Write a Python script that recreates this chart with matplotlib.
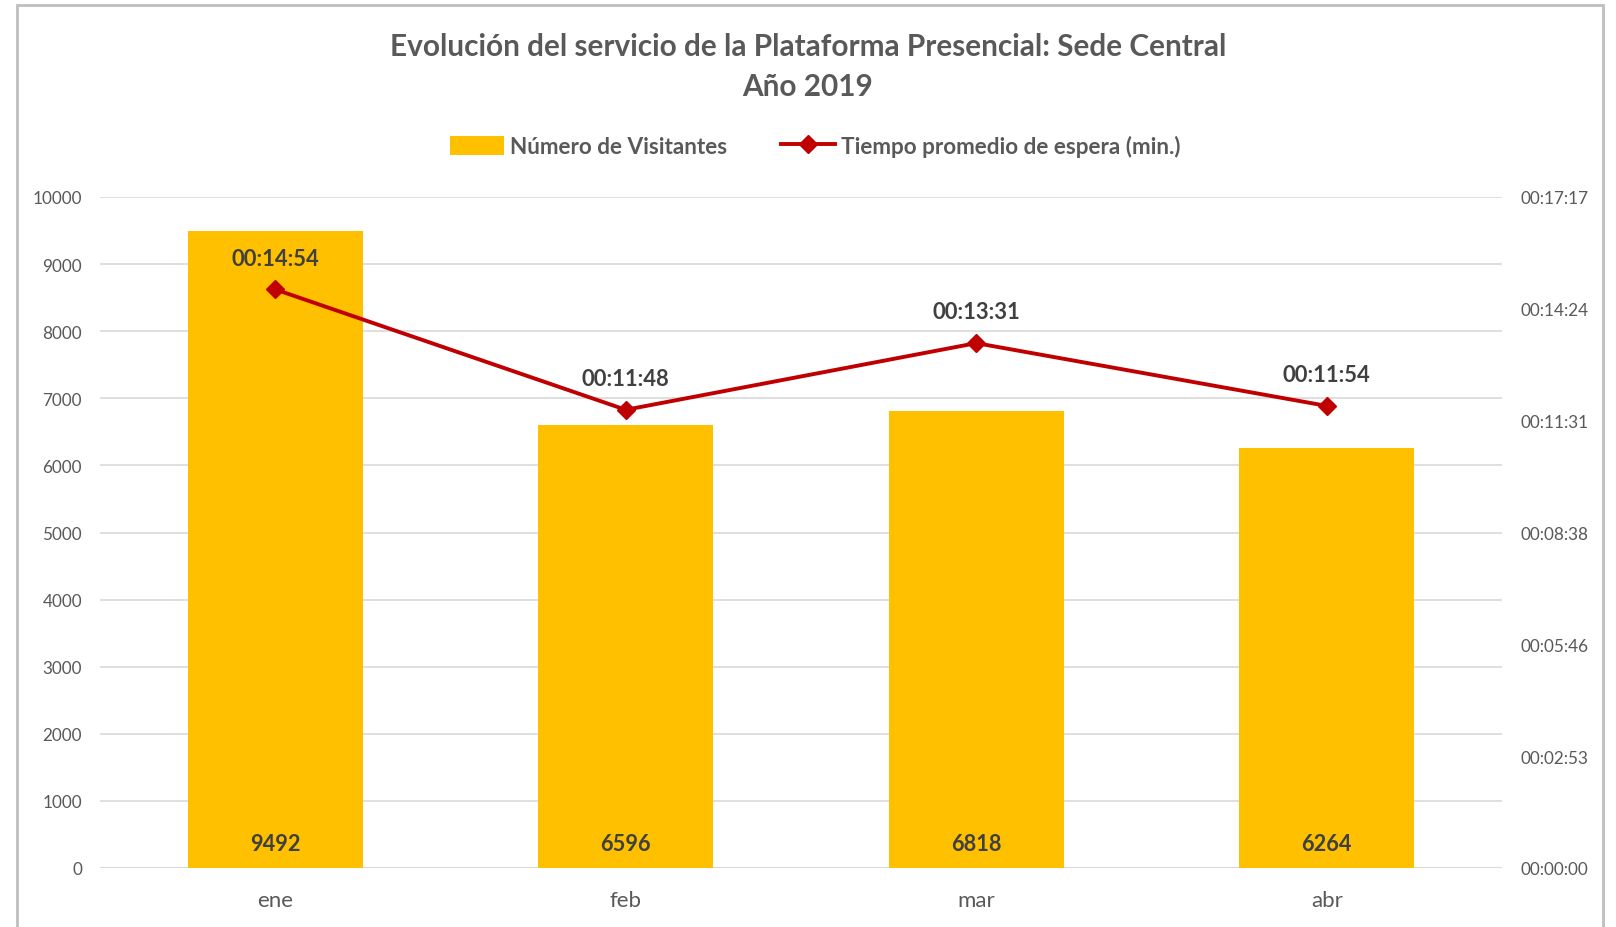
import matplotlib
matplotlib.use("Agg")
import matplotlib.pyplot as plt
from matplotlib.lines import Line2D
from matplotlib.patches import Patch, Rectangle

# data
meses = ["ene", "feb", "mar", "abr"]
visitantes = [9492, 6596, 6818, 6264]
tiempo_espera = ["00:14:54", "00:11:48", "00:13:31", "00:11:54"]

titulo = "Evolución del servicio de la Plataforma Presencial: Sede Central\nAño 2019"
serie_barras = "Número de Visitantes"
serie_linea = "Tiempo promedio de espera (min.)"


def a_segundos(txt):
    h, m, s = [int(p) for p in txt.split(":")]
    return h * 3600 + m * 60 + s


def a_hms(seg):
    seg = int(round(seg))
    return f"{seg // 3600:02d}:{(seg % 3600) // 60:02d}:{seg % 60:02d}"


segundos = [a_segundos(t) for t in tiempo_espera]

plt.rcParams["font.family"] = ["Lato", "DejaVu Sans"]
GRIS = "#595959"
OSCURO = "#404040"
AMARILLO = "#FFC000"
ROJO = "#C00000"

W, H = 1616, 928
fig = plt.figure(figsize=(W / 100, H / 100), dpi=100)
ax = fig.add_axes([100 / W, 1 - 869 / H, 1402 / W, (869 - 198) / H])
ax2 = ax.twinx()

x = list(range(len(meses)))
ax.bar(x, visitantes, width=0.5, color=AMARILLO, zorder=2)
ax.set_xlim(-0.5, len(meses) - 0.5)
ax.set_ylim(0, 10000)
ax.set_yticks(range(0, 10001, 1000))
ax.yaxis.grid(True, color="#D9D9D9", linewidth=1.2, zorder=0)
ax.set_axisbelow(True)
ax.set_xticks(x)
ax.set_xticklabels(meses, fontsize=16, color=GRIS)
ax.tick_params(axis="x", length=0, pad=16)
ax.tick_params(axis="y", length=0, pad=13, labelsize=12.3, labelcolor=GRIS)
for s in ax.spines.values():
    s.set_visible(False)
ax.axhline(0, color="#D9D9D9", linewidth=1.5, zorder=1)

for xi, v in zip(x, visitantes):
    ax.text(xi, 370, str(v), ha="center", va="center", fontsize=15.7,
            fontweight="bold", color=OSCURO, zorder=3)

# linea de tiempo (eje derecho, en segundos; 0.012 dias = 1036.8 s)
paso = 0.002 * 86400
ax2.set_ylim(0, 6 * paso)
ax2.set_yticks([i * paso for i in range(7)])
ax2.set_yticklabels([a_hms(i * paso) for i in range(7)])
ax2.tick_params(axis="y", length=0, pad=13, labelsize=12.3, labelcolor=GRIS)
for s in ax2.spines.values():
    s.set_visible(False)
ax2.plot(x, segundos, color=ROJO, linewidth=2.8, marker="D", markersize=9,
         zorder=4)
for xi, sg, t in zip(x, segundos, tiempo_espera):
    ax2.annotate(t, (xi, sg), xytext=(0, 22.5), textcoords="offset points",
                 ha="center", va="center", fontsize=15.8, fontweight="bold",
                 color=OSCURO)

fig.text(0.5, 1 - 67 / H, titulo, ha="center", va="center", fontsize=21.4,
         fontweight="bold", color=GRIS, linespacing=1.55)

handles = [Patch(facecolor=AMARILLO, edgecolor="none"),
           Line2D([0], [0], color=ROJO, linewidth=2.8, marker="D", markersize=9)]
leg = fig.legend(handles, [serie_barras, serie_linea], loc="center",
                 bbox_to_anchor=(0.5045, 1 - 147 / H), ncol=2, frameon=False,
                 prop={"size": 16.2, "weight": "bold"}, labelcolor=GRIS,
                 handlelength=2.4, handleheight=0.9, handletextpad=0.25,
                 columnspacing=2.4)

# borde del area del grafico
fig.patches.append(Rectangle((17 / W, -0.05), (1603 - 17) / W, 1.05 - 6 / H,
                             transform=fig.transFigure, fill=False,
                             edgecolor="#BFBFBF", linewidth=2))

fig.savefig("out.png", dpi=100)
